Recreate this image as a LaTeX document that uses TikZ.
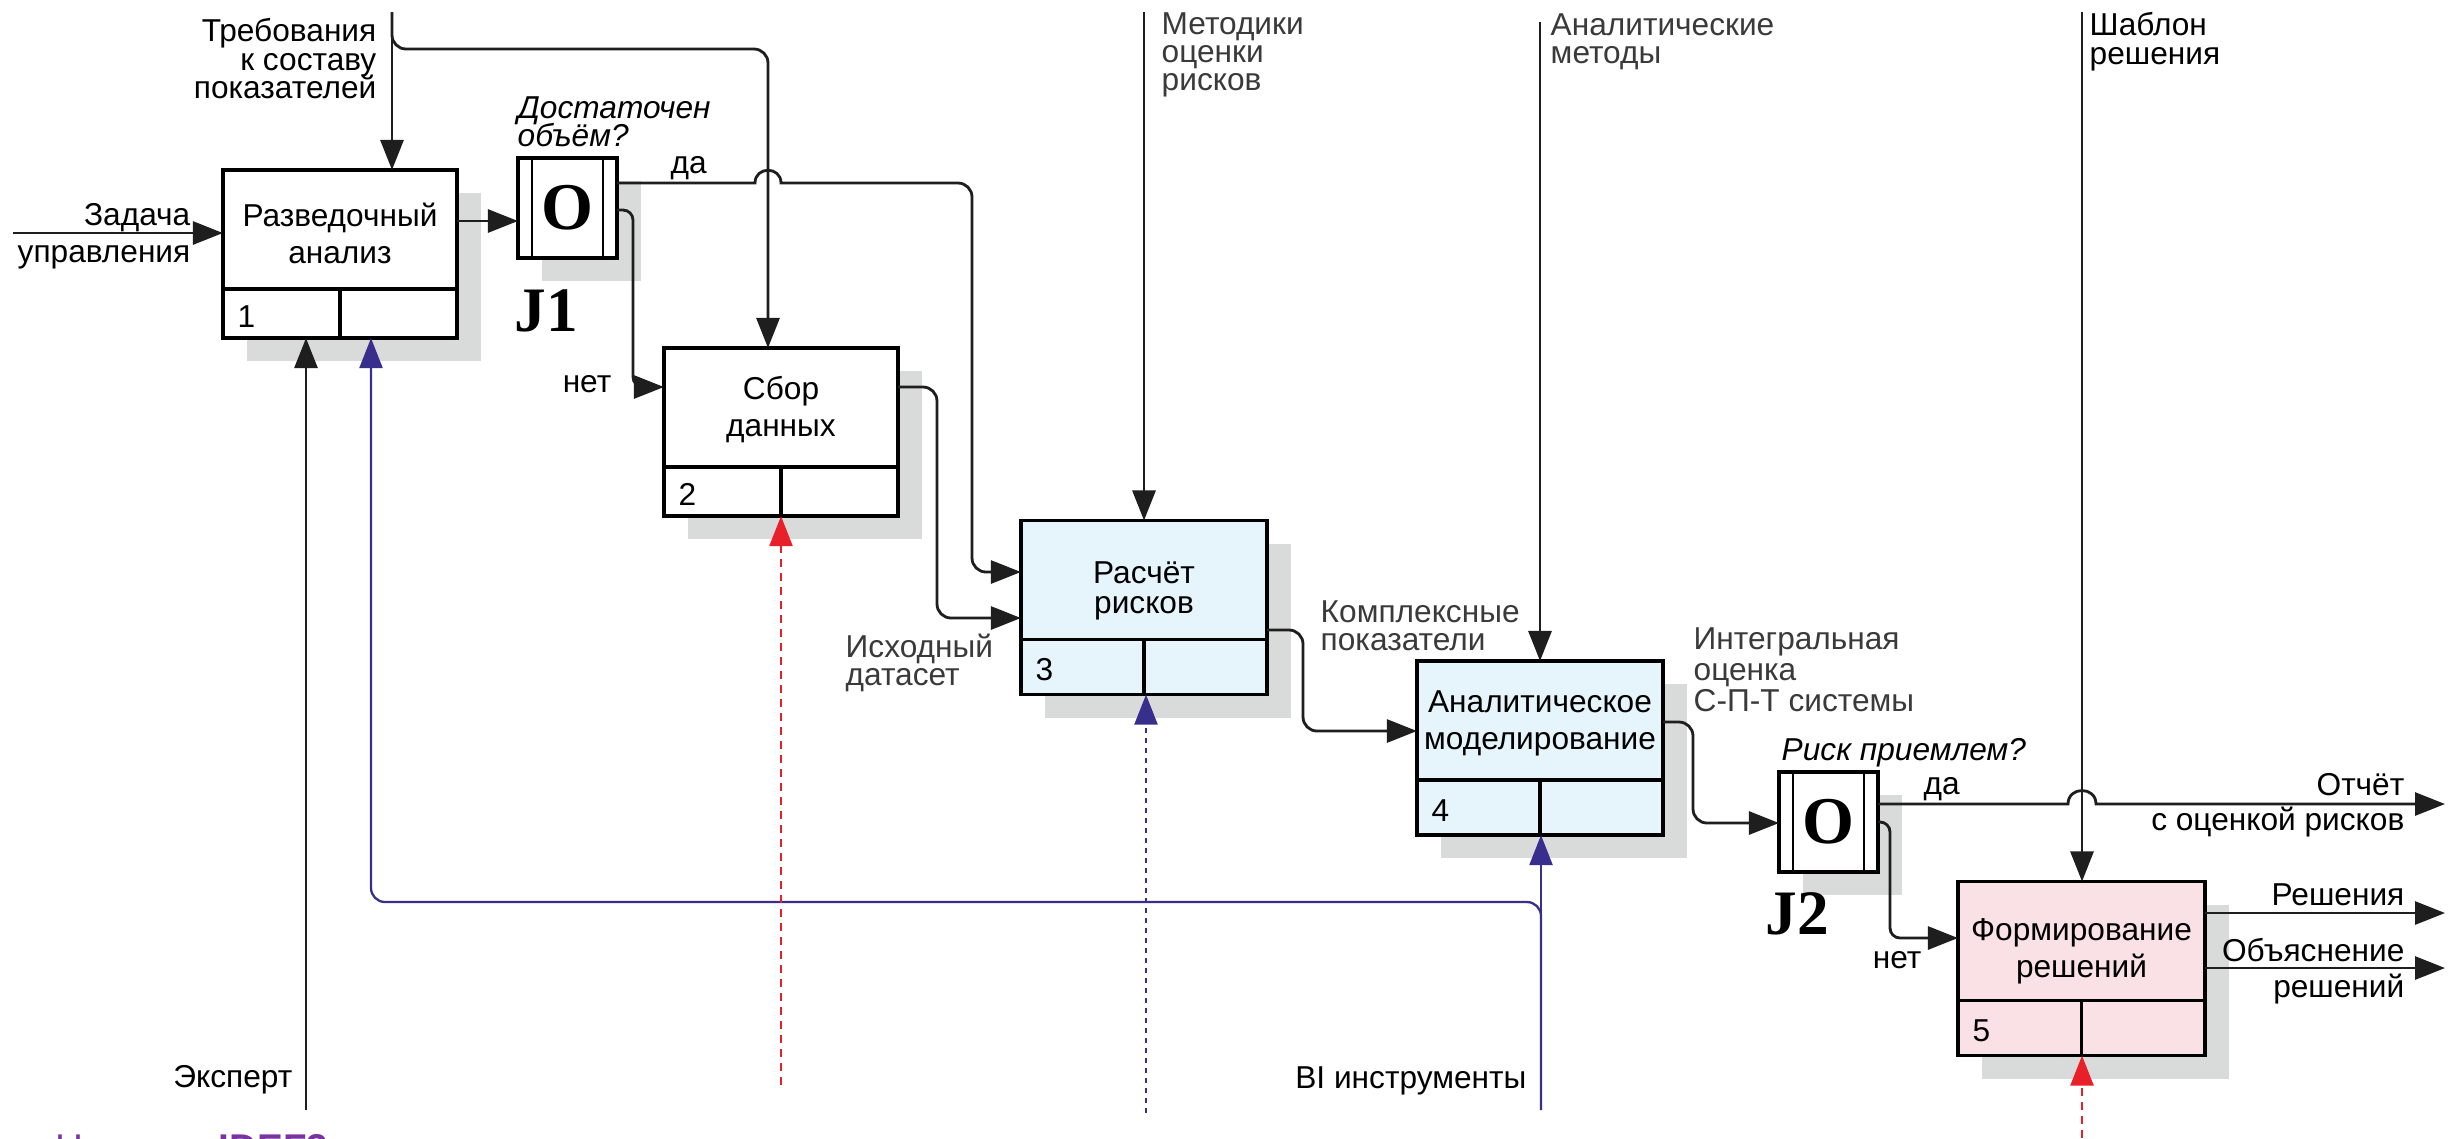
\documentclass[tikz,border=0pt]{standalone}
\usepackage{fontspec}
\setmainfont{Liberation Sans}
\newfontfamily\serifbold{Liberation Serif}
\usetikzlibrary{positioning,calc,arrows.meta,shadows}
\definecolor{shade}{RGB}{217,218,218}
\definecolor{navy}{RGB}{56,47,140}
\definecolor{signal}{RGB}{232,32,42}
\definecolor{ink}{RGB}{30,30,30}
\definecolor{soft}{RGB}{58,58,58}
\definecolor{pale}{RGB}{230,244,251}
\definecolor{blush}{RGB}{249,225,229}
\definecolor{grape}{RGB}{122,52,162}
\newcommand{\labfont}{\fontsize{9}{8}\selectfont\lineskiplimit=-20pt}
\newcommand{\boxfont}{\fontsize{9}{10.5}\selectfont\lineskiplimit=-20pt}
\tikzset{
  procbox/.style={draw, line width=1pt, fill=white, inner sep=0pt, outer sep=0pt,
    minimum height=1.19cm,
    drop shadow={shadow xshift=0.24cm, shadow yshift=-0.23cm, fill=shade, opacity=1}},
  boxtext/.style={inner sep=0pt, align=center, font=\boxfont},
  gate/.style={procbox, minimum width=0.99cm, minimum height=1cm,
    font=\serifbold\bfseries\fontsize{19}{19}\selectfont},
  gatename/.style={inner sep=0pt, font=\serifbold\bfseries\fontsize{18}{18}\selectfont},
  boxline/.style={line width=1pt},
  lab/.style={inner sep=0pt, font=\labfont},
  link/.style={line width=0.8pt, draw=ink, -{Triangle[length=0.3cm,width=0.23cm]}},
  mech/.style={line width=0.65pt, draw=navy, -{Triangle[length=0.3cm,width=0.23cm]}},
  redline/.style={line width=0.65pt, draw=signal, dash pattern=on 0.08cm off 0.06cm,
    -{Triangle[length=0.3cm,width=0.23cm]}},
  blueline/.style={line width=0.65pt, draw=navy, dash pattern=on 0.05cm off 0.05cm,
    -{Triangle[length=0.3cm,width=0.23cm]}}
}
\begin{document}
\begin{tikzpicture}[x=0.01cm, y=-0.01cm]
  \useasboundingbox (0,0) rectangle (2458,1138);
  \fill[white] (0,0) rectangle (2458,1138);

  \node[procbox, minimum width=2.34cm] (p1) at (340,229.5) {};
  \node[procbox, minimum width=2.34cm, minimum height=0.49cm, below=0pt of p1] (p1n) {};
  \node[procbox, minimum width=2.34cm] (p2) at (781,407.5) {};
  \node[procbox, minimum width=2.34cm, minimum height=0.49cm, below=0pt of p2] (p2n) {};
  \node[procbox, fill=pale, minimum width=2.46cm] (p3) at (1144,580) {};
  \node[procbox, fill=pale, minimum width=2.46cm, minimum height=0.55cm, below=0pt of p3] (p3n) {};
  \node[procbox, fill=pale, minimum width=2.46cm] (p4) at (1540,720.5) {};
  \node[procbox, fill=pale, minimum width=2.46cm, minimum height=0.55cm, below=0pt of p4] (p4n) {};
  \node[procbox, fill=blush, minimum width=2.47cm] (p5) at (2081.5,941) {};
  \node[procbox, fill=blush, minimum width=2.47cm, minimum height=0.55cm, below=0pt of p5] (p5n) {};
  \node[boxtext, yshift=-1pt] (t1) at (p1) {Разведочный\\анализ};
  \node[boxtext, yshift=-0.5pt] (t2) at (p2) {Сбор\\данных};
  \node[boxtext, yshift=-3pt] (t3) at (p3) {Расчёт\\[-2pt]рисков};
  \node[boxtext, yshift=-0.8pt] (t4) at (p4) {Аналитическое\\моделирование};
  \node[boxtext, yshift=-2.8pt] (t5) at (p5) {Формирование\\решений};
  \foreach \i in {1,...,5}{
    \draw[boxline] (p\i n.north) -- (p\i n.south);
    \node[lab, right=0.14cm of p\i n.west, yshift=-0.03cm] (k\i) {\i};
  }

  \node[gate] (j1) at (567.5,208) {O};
  \node[gate] (j2) at (1828.5,822) {O};
  \foreach \j in {j1,j2}{
    \draw[line width=0.6pt] ($(\j.north west)+(14,0)$) -- ($(\j.south west)+(14,0)$);
    \draw[line width=0.6pt] ($(\j.north east)+(-14,0)$) -- ($(\j.south east)+(-14,0)$);
  }
  \node[gatename] (j1tag) at (546,311) {J1};
  \node[gatename] (j2tag) at (1797,914) {J2};

  \coordinate (taskin) at (13,233);
  \coordinate (reqtop) at (392,12);
  \coordinate (reqbend) at (768,49);
  \coordinate (toj1) at (490,221);
  \coordinate (hop1) at (768,183);
  \coordinate (yesturn) at (972,183);
  \coordinate (yesin) at (972,572);
  \coordinate (noturn) at (633,210);
  \coordinate (noin) at (633,387);
  \coordinate (dataturn) at (937,387);
  \coordinate (datain) at (937,618);
  \coordinate (methtop) at (1144,12);
  \coordinate (cmplxturn) at (1303,630);
  \coordinate (cmplxin) at (1303,731);
  \coordinate (antop) at (1540,22);
  \coordinate (integturn) at (1693,722);
  \coordinate (integin) at (1693,823);
  \coordinate (hop2) at (2082,804);
  \coordinate (reportout) at (2445,804);
  \coordinate (noturntwo) at (1890,822);
  \coordinate (nointwo) at (1890,938);
  \coordinate (tmpltop) at (2082,12);
  \coordinate (decout) at (2445,913);
  \coordinate (explout) at (2445,968);
  \coordinate (expertbot) at (306,1110);
  \coordinate (bibot) at (1541,1110);
  \coordinate (mechturn) at (371,902);
  \coordinate (datbot) at (781,1085);
  \coordinate (calcbot) at (1146,1113);
  \coordinate (decbot) at (2082,1138);

  \draw[link] (taskin) -- (taskin -| p1.west);
  \draw[link] (reqtop) -- (reqtop |- p1.north);
  \draw[link, rounded corners=0.14cm] (reqtop) |- (reqbend) -- (reqbend |- p2.north);
  \draw[link] (p1.east |- toj1) -- (j1.west |- toj1);
  \draw[link] (j1.east |- hop1) -- ($(hop1)+(-13,0)$)
    .. controls ($(hop1)+(-13,-17)$) and ($(hop1)+(13,-17)$) .. ($(hop1)+(13,0)$)
    [rounded corners=0.14cm] -- (yesturn) -- (yesin) -- (yesin -| p3.west);
  \draw[link, rounded corners=0.1cm] (j1.east |- noturn) -- (noturn) -- (noin) -- (noin -| p2.west);
  \draw[link, rounded corners=0.14cm] (p2.east |- dataturn) -- (dataturn) -- (datain) -- (datain -| p3.west);
  \draw[link] (methtop) -- (methtop |- p3.north);
  \draw[link, rounded corners=0.14cm] (p3.east |- cmplxturn) -- (cmplxturn) -- (cmplxin) -- (cmplxin -| p4.west);
  \draw[link] (antop) -- (antop |- p4.north);
  \draw[link, rounded corners=0.14cm] (p4.east |- integturn) -- (integturn) -- (integin) -- (integin -| j2.west);
  \draw[link] (j2.east |- hop2) -- ($(hop2)+(-14,0)$)
    .. controls ($(hop2)+(-14,-18)$) and ($(hop2)+(14,-18)$) .. ($(hop2)+(14,0)$) -- (reportout);
  \draw[link, rounded corners=0.1cm] (j2.east |- noturntwo) -- (noturntwo) -- (nointwo) -- (nointwo -| p5.west);
  \draw[link] (tmpltop) -- (tmpltop |- p5.north);
  \draw[link] (p5.east |- decout) -- (decout);
  \draw[link] (p5.east |- explout) -- (explout);
  \draw[link] (expertbot) -- (expertbot |- p1n.south);
  \draw[mech] (bibot) -- (bibot |- p4n.south);
  \draw[mech, rounded corners=0.14cm] (bibot) |- (mechturn) -- (mechturn |- p1n.south);
  \draw[redline] (datbot) -- (datbot |- p2n.south);
  \draw[blueline] (calcbot) -- (calcbot |- p3n.south);
  \draw[redline] (decbot) -- (decbot |- p5n.south);

  \node[lab, align=right, anchor=north east] (req) at (377,18) {Требования\\к составу\\показателей};
  \node[lab, align=right, anchor=north east] (task) at (191,203) {Задача\\[2.5pt]управления};
  \node[lab, align=left, anchor=north west, font=\labfont\itshape] (qone) at (517,96) {Достаточен\\объём?};
  \node[lab, anchor=base west] (yesone) at (670,173) {да};
  \node[lab, anchor=base east] (noone) at (612,392) {нет};
  \node[lab, align=left, anchor=north west, text=soft] (meth) at (1161,12) {Методики\\оценки\\рисков};
  \node[lab, align=left, anchor=north west, text=soft] (anmeth) at (1550,13) {Аналитические\\методы};
  \node[lab, align=left, anchor=north west] (tmpl) at (2089,12) {Шаблон\\решения};
  \node[lab, align=left, anchor=north west, text=soft] (src) at (845,633) {Исходный\\датасет};
  \node[lab, align=left, anchor=north west, text=soft] (cmplx) at (1320,600) {Комплексные\\показатели};
  \node[lab, align=left, anchor=north west, text=soft] (integ) at (1693,627) {Интегральная\\[0.8pt]оценка\\[0.8pt]С-П-Т системы};
  \node[lab, anchor=base west, font=\labfont\itshape] (qtwo) at (1781,760) {Риск приемлем?};
  \node[lab, anchor=base west] (yestwo) at (1923,794) {да};
  \node[lab, anchor=base east] (notwo) at (1922,968) {нет};
  \node[lab, align=right, anchor=north east] (report) at (2405,773) {Отчёт\\[2pt]с оценкой рисков};
  \node[lab, anchor=base east] (dec) at (2405,905) {Решения};
  \node[lab, align=right, anchor=north east] (expl) at (2405,938) {Объяснение\\[2pt]решений};
  \node[lab, anchor=base east] (expert) at (293,1087) {Эксперт};
  \node[lab, anchor=base east] (bi) at (1527,1088) {BI инструменты};
  \node[lab, anchor=north west, text=grape, font=\fontsize{11}{13}\selectfont] (notation) at (55,1134) {Нотация \textbf{IDEF3}};
\end{tikzpicture}
\end{document}
